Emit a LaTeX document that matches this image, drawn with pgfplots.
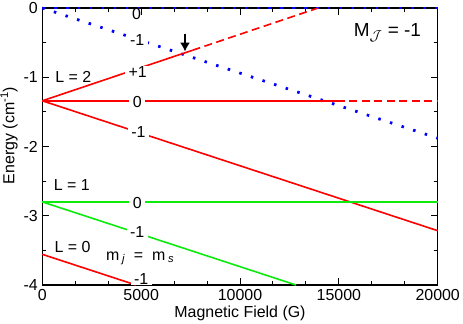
\documentclass[border=0pt]{standalone}
\usepackage{fontspec}
\setmainfont{Liberation Sans}
\usepackage{pgfplots}
\pgfplotsset{compat=1.18}
\usetikzlibrary{arrows.meta}
\definecolor{bblue}{rgb}{0,0,1}
\definecolor{rred}{rgb}{1,0,0}
\definecolor{ggreen}{rgb}{0.05,0.92,0.05}
\newcommand{\fs}{\fontsize{16}{19}\selectfont}
\begin{document}
\fs
\begin{tikzpicture}
\begin{axis}[
  scale only axis, width=395.4bp, height=277bp,
  xmin=0, xmax=20000, ymin=-4, ymax=0,
  scaled x ticks=false,
  xtick={0,5000,10000,15000,20000},
  xticklabels={0,5000,10000,15000,20000},
  ytick={-4,-3,-2,-1,0},
  yticklabels={-4,-3,-2,-1,0},
  minor x tick num=2, minor y tick num=1,
  tick align=inside,
  major tick length=7bp, minor tick length=3.5bp,
  every tick/.style={black, line width=1bp},
  axis line style={line width=1.3bp},
  tick label style={font=\fs},
  label style={font=\fs},
  xticklabel style={yshift=1bp},
  yticklabel style={xshift=1bp},
  xlabel={Magnetic Field (G)},
  ylabel={Energy (cm\textsuperscript{-1})},
  xlabel style={yshift=6bp},
  ylabel style={at={(ticklabel cs:0.54)}, yshift=-5bp},
  clip=false,
]
% blue dotted levels
\addplot[bblue, line width=2.8bp, line cap=butt, dash pattern=on 2.5bp off 9.4bp] coordinates {(0,0) (20000,0)};
\addplot[bblue, line width=2.8bp, line cap=butt, dash pattern=on 2.5bp off 9.7bp] coordinates {(0,0) (20000,-1.88)};
% L = 2 (red)
\addplot[rred, line width=1.6bp] coordinates {(0,-1.34) (7600,-0.610)};
\addplot[rred, line width=1.6bp, dash pattern=on 8bp off 4.5bp] coordinates {(7600,-0.610) (13950,0)};
\addplot[rred, line width=1.6bp] coordinates {(0,-1.34) (14900,-1.34)};
\addplot[rred, line width=1.6bp, dash pattern=on 8bp off 4.5bp] coordinates {(14900,-1.34) (20000,-1.34)};
\addplot[rred, line width=1.6bp] coordinates {(0,-1.34) (20000,-3.216)};
% L = 1 (green)
\addplot[ggreen, line width=1.6bp] coordinates {(0,-2.80) (20000,-2.80)};
\addplot[ggreen, line width=1.6bp] coordinates {(0,-2.80) (12834,-4)};
% L = 0 (red)
\addplot[rred, line width=1.6bp] coordinates {(0,-3.557) (4738,-4)};
% arrow
\addplot[black, line width=1.8bp, -{Latex[length=9bp,width=10bp]}] coordinates {(7218,-0.37) (7218,-0.63)};
% labels
\tikzset{lab/.style={fill=white, inner xsep=3.5bp, inner ysep=0.5bp, font=\fs}}
\node[font=\fs, inner sep=0pt] at (axis cs:4770,-0.085) {0};
\node[lab] at (axis cs:4800,-0.46) {-1};
\node[lab] at (axis cs:4820,-0.92) {+1};
\node[lab] at (axis cs:4800,-1.353) {0};
\node[lab] at (axis cs:4860,-1.786) {-1};
\node[lab, fill=none] at (axis cs:1570,-0.99) {L = 2};
\node[lab, fill=none] at (axis cs:1490,-2.556) {L = 1};
\node[lab] at (axis cs:4800,-2.81) {0};
\node[lab] at (axis cs:4800,-3.24) {-1};
\node[lab, fill=none] at (axis cs:1530,-3.456) {L = 0};
\node[lab] at (axis cs:5000,-3.913) {-1};
\node[lab, fill=none] at (axis cs:4950,-3.615) {m\,$_{\mathit{j}}$\ \ =\ \ m\,$_{\mathit{s}}$};
\node[font=\fontsize{19}{22}\selectfont, inner sep=0pt] at (axis cs:17460,-0.357) {M$_{\mathcal{J}}$ = -1};
\end{axis}
\pgfresetboundingbox
\path ([shift={(-42.3bp,-39bp)}]current axis.south west) rectangle ++(463bp,324bp);
\end{tikzpicture}
\end{document}
